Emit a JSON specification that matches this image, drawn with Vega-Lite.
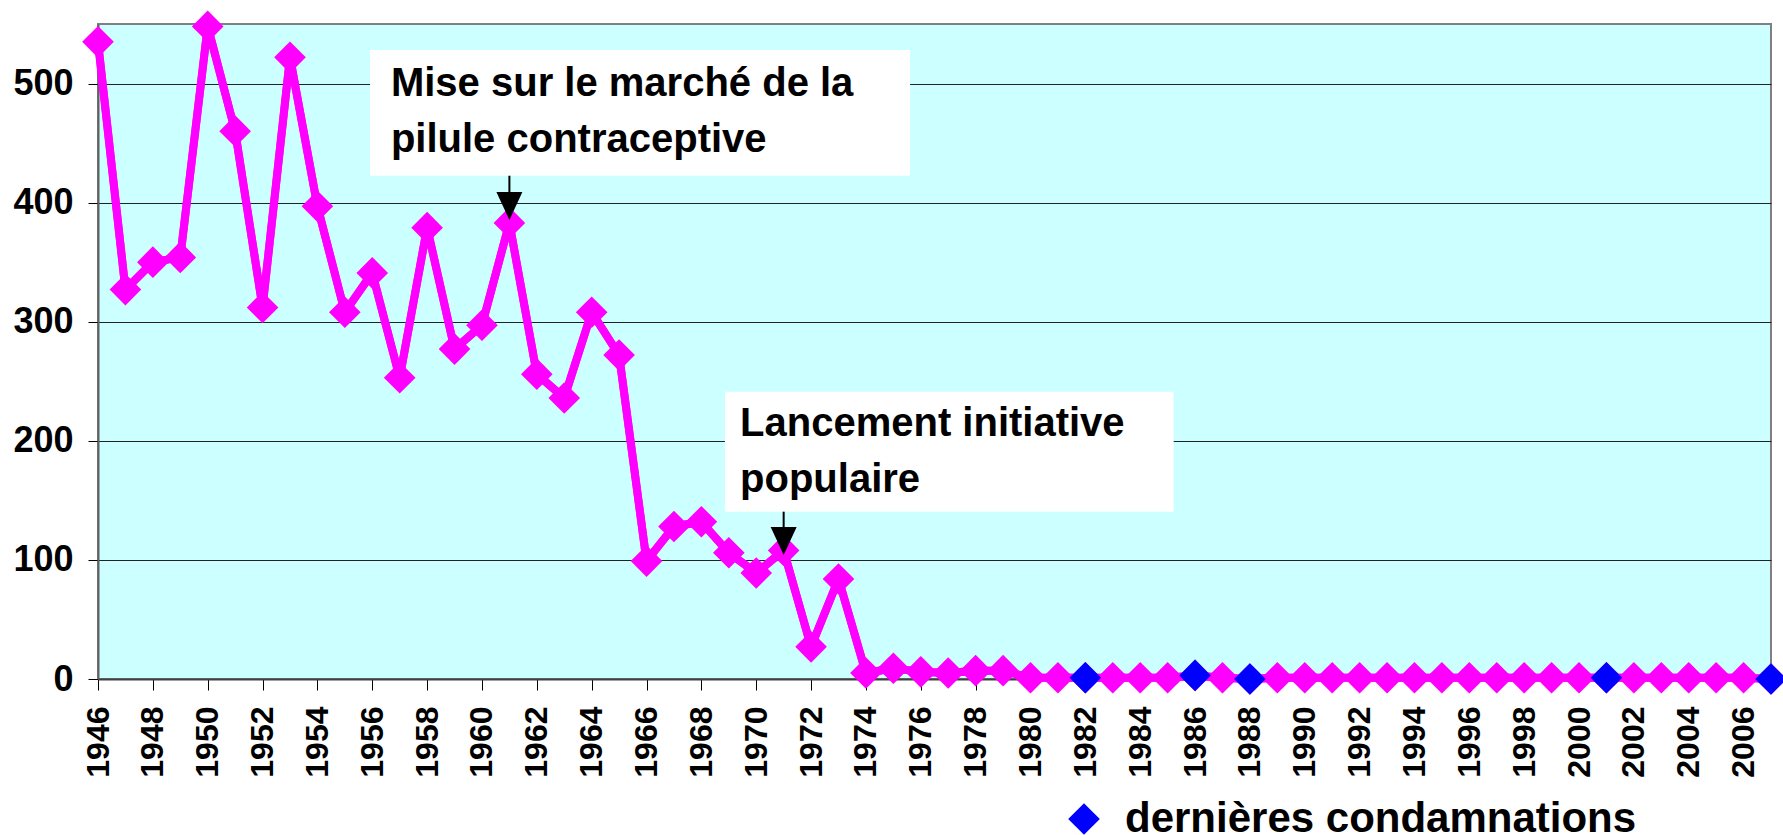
{
  "$schema": "https://vega.github.io/schema/vega-lite/v6.json",
  "width": 1673,
  "height": 655,
  "autosize": {"type": "none"},
  "padding": {"left": 98, "top": 24, "right": 12, "bottom": 156},
  "background": "white",
  "config": {
    "font": "Liberation Sans",
    "view": {"fill": "#CCFFFF", "stroke": "#808080", "strokeWidth": 2},
    "axis": {"labelFont": "Liberation Sans", "labelFontWeight": "bold", "labelColor": "black", "tickColor": "#000000", "tickWidth": 1}
  },
  "datasets": {
    "condamnations": [
      {"annee": 1946, "nombre": 535, "type": "avortement"},
      {"annee": 1947, "nombre": 327, "type": "avortement"},
      {"annee": 1948, "nombre": 350, "type": "avortement"},
      {"annee": 1949, "nombre": 354, "type": "avortement"},
      {"annee": 1950, "nombre": 548, "type": "avortement"},
      {"annee": 1951, "nombre": 460, "type": "avortement"},
      {"annee": 1952, "nombre": 312, "type": "avortement"},
      {"annee": 1953, "nombre": 522, "type": "avortement"},
      {"annee": 1954, "nombre": 397, "type": "avortement"},
      {"annee": 1955, "nombre": 308, "type": "avortement"},
      {"annee": 1956, "nombre": 341, "type": "avortement"},
      {"annee": 1957, "nombre": 253, "type": "avortement"},
      {"annee": 1958, "nombre": 379, "type": "avortement"},
      {"annee": 1959, "nombre": 277, "type": "avortement"},
      {"annee": 1960, "nombre": 297, "type": "avortement"},
      {"annee": 1961, "nombre": 383, "type": "avortement"},
      {"annee": 1962, "nombre": 256, "type": "avortement"},
      {"annee": 1963, "nombre": 236, "type": "avortement"},
      {"annee": 1964, "nombre": 308, "type": "avortement"},
      {"annee": 1965, "nombre": 272, "type": "avortement"},
      {"annee": 1966, "nombre": 99, "type": "avortement"},
      {"annee": 1967, "nombre": 128, "type": "avortement"},
      {"annee": 1968, "nombre": 132, "type": "avortement"},
      {"annee": 1969, "nombre": 106, "type": "avortement"},
      {"annee": 1970, "nombre": 89, "type": "avortement"},
      {"annee": 1971, "nombre": 108, "type": "avortement"},
      {"annee": 1972, "nombre": 27, "type": "avortement"},
      {"annee": 1973, "nombre": 84, "type": "avortement"},
      {"annee": 1974, "nombre": 5, "type": "avortement"},
      {"annee": 1975, "nombre": 9, "type": "avortement"},
      {"annee": 1976, "nombre": 6, "type": "avortement"},
      {"annee": 1977, "nombre": 5, "type": "avortement"},
      {"annee": 1978, "nombre": 7, "type": "avortement"},
      {"annee": 1979, "nombre": 7, "type": "avortement"},
      {"annee": 1980, "nombre": 1, "type": "avortement"},
      {"annee": 1981, "nombre": 1, "type": "avortement"},
      {"annee": 1982, "nombre": 1, "type": "dernières condamnations"},
      {"annee": 1983, "nombre": 1, "type": "avortement"},
      {"annee": 1984, "nombre": 1, "type": "avortement"},
      {"annee": 1985, "nombre": 1, "type": "avortement"},
      {"annee": 1986, "nombre": 3, "type": "dernières condamnations"},
      {"annee": 1987, "nombre": 1, "type": "avortement"},
      {"annee": 1988, "nombre": 0, "type": "dernières condamnations"},
      {"annee": 1989, "nombre": 1, "type": "avortement"},
      {"annee": 1990, "nombre": 1, "type": "avortement"},
      {"annee": 1991, "nombre": 1, "type": "avortement"},
      {"annee": 1992, "nombre": 1, "type": "avortement"},
      {"annee": 1993, "nombre": 1, "type": "avortement"},
      {"annee": 1994, "nombre": 1, "type": "avortement"},
      {"annee": 1995, "nombre": 1, "type": "avortement"},
      {"annee": 1996, "nombre": 1, "type": "avortement"},
      {"annee": 1997, "nombre": 1, "type": "avortement"},
      {"annee": 1998, "nombre": 1, "type": "avortement"},
      {"annee": 1999, "nombre": 1, "type": "avortement"},
      {"annee": 2000, "nombre": 1, "type": "avortement"},
      {"annee": 2001, "nombre": 1, "type": "dernières condamnations"},
      {"annee": 2002, "nombre": 1, "type": "avortement"},
      {"annee": 2003, "nombre": 1, "type": "avortement"},
      {"annee": 2004, "nombre": 1, "type": "avortement"},
      {"annee": 2005, "nombre": 1, "type": "avortement"},
      {"annee": 2006, "nombre": 1, "type": "avortement"},
      {"annee": 2007, "nombre": 0, "type": "dernières condamnations"}
    ]
  },
  "layer": [
    {
      "data": {"name": "condamnations"},
      "mark": {"type": "line", "color": "#FF00FF", "strokeWidth": 8, "strokeJoin": "round"},
      "encoding": {
        "x": {"field": "annee", "type": "quantitative", "title": null,
              "scale": {"domain": [1946, 2007], "nice": false, "zero": false},
              "axis": {"title": null, "values": [1946,1948,1950,1952,1954,1956,1958,1960,1962,1964,1966,1968,1970,1972,1974,1976,1978,1980,1982,1984,1986,1988,1990,1992,1994,1996,1998,2000,2002,2004,2006],
                       "format": "d", "labelAngle": -90, "labelFontSize": 32, "tickSize": 11, "labelPadding": 16, "grid": false,
                       "domainColor": "#404040", "domainWidth": 2, "labelOverlap": false, "labelFlush": false}},
        "y": {"field": "nombre", "type": "quantitative", "title": null,
              "scale": {"domain": [0, 550], "nice": false},
              "axis": {"title": null, "values": [0,100,200,300,400,500], "labelFontSize": 36, "tickSize": 10, "labelPadding": 15,
                       "grid": true, "gridColor": "#222222", "gridWidth": 1, "domainColor": "#606060", "domainWidth": 2, "labelFlush": false}}
      }
    },
    {
      "data": {"values": [{}]},
      "mark": {"type": "rect", "fill": "white"},
      "encoding": {
        "x": {"datum": 1955.92, "type": "quantitative", "title": null},
        "x2": {"datum": 1975.61},
        "y": {"datum": 528.2, "type": "quantitative", "title": null},
        "y2": {"datum": 422.6}
      }
    },
    {
      "data": {"values": [{}]},
      "mark": {"type": "rect", "fill": "white"},
      "encoding": {
        "x": {"datum": 1968.86, "type": "quantitative", "title": null},
        "x2": {"datum": 1985.22},
        "y": {"datum": 241.2, "type": "quantitative", "title": null},
        "y2": {"datum": 140.5}
      }
    },
    {
      "data": {"name": "condamnations"},
      "mark": {"type": "line", "color": "#FF00FF", "strokeWidth": 8, "strokeJoin": "round"},
      "encoding": {
        "x": {"field": "annee", "type": "quantitative", "title": null},
        "y": {"field": "nombre", "type": "quantitative", "title": null}
      }
    },
    {
      "data": {"name": "condamnations"},
      "mark": {"type": "point", "shape": "diamond", "filled": true, "color": "#FF00FF", "size": 1000, "opacity": 1},
      "encoding": {
        "x": {"field": "annee", "type": "quantitative", "title": null},
        "y": {"field": "nombre", "type": "quantitative", "title": null}
      }
    },
    {
      "data": {"name": "condamnations"},
      "transform": [{"filter": "datum.type === 'dernières condamnations'"}],
      "mark": {"type": "point", "shape": "diamond", "filled": true, "size": 1000, "opacity": 1},
      "encoding": {
        "x": {"field": "annee", "type": "quantitative", "title": null},
        "y": {"field": "nombre", "type": "quantitative", "title": null},
        "color": {"field": "type", "type": "nominal",
                  "scale": {"domain": ["dernières condamnations"], "range": ["#0000FF"]},
                  "legend": {"orient": "none", "legendX": 965, "legendY": 774, "title": null, "symbolType": "diamond", "symbolSize": 1000,
                             "symbolStrokeWidth": 0, "symbolOpacity": 1, "labelFontSize": 42, "labelFont": "Liberation Sans", "labelFontWeight": "bold",
                             "labelColor": "black", "labelOffset": 20, "padding": 0, "labelLimit": 0}}
      }
    },
    {
      "data": {"values": [{}]},
      "mark": {"type": "text", "text": ["Mise sur le marché de la", "pilule contraceptive"], "align": "left", "baseline": "alphabetic",
               "font": "Liberation Sans", "fontWeight": "bold", "fontSize": 40, "lineHeight": 56, "color": "black"},
      "encoding": {
        "x": {"datum": 1956.68, "type": "quantitative", "title": null},
        "y": {"datum": 489.5, "type": "quantitative", "title": null}
      }
    },
    {
      "data": {"values": [{}]},
      "mark": {"type": "text", "text": ["Lancement initiative", "populaire"], "align": "left", "baseline": "alphabetic",
               "font": "Liberation Sans", "fontWeight": "bold", "fontSize": 40, "lineHeight": 56, "color": "black"},
      "encoding": {
        "x": {"datum": 1969.41, "type": "quantitative", "title": null},
        "y": {"datum": 204.0, "type": "quantitative", "title": null}
      }
    },
    {
      "data": {"values": [{}]},
      "mark": {"type": "rule", "color": "black", "strokeWidth": 2},
      "encoding": {
        "x": {"datum": 1961, "type": "quantitative", "title": null},
        "y": {"datum": 422.6, "type": "quantitative", "title": null},
        "y2": {"datum": 405}
      }
    },
    {
      "data": {"values": [{}]},
      "mark": {"type": "rule", "color": "black", "strokeWidth": 2},
      "encoding": {
        "x": {"datum": 1971, "type": "quantitative", "title": null},
        "y": {"datum": 140.5, "type": "quantitative", "title": null},
        "y2": {"datum": 124}
      }
    },
    {
      "data": {"values": [{}]},
      "mark": {"type": "point", "shape": "M-1,-1.08L1,-1.08L0,1.08Z", "filled": true, "color": "black", "size": 676, "opacity": 1},
      "encoding": {
        "x": {"datum": 1961, "type": "quantitative", "title": null},
        "y": {"datum": 397.2, "type": "quantitative", "title": null}
      }
    },
    {
      "data": {"values": [{}]},
      "mark": {"type": "point", "shape": "M-1,-1.08L1,-1.08L0,1.08Z", "filled": true, "color": "black", "size": 676, "opacity": 1},
      "encoding": {
        "x": {"datum": 1971, "type": "quantitative", "title": null},
        "y": {"datum": 115.9, "type": "quantitative", "title": null}
      }
    }
  ]
}
